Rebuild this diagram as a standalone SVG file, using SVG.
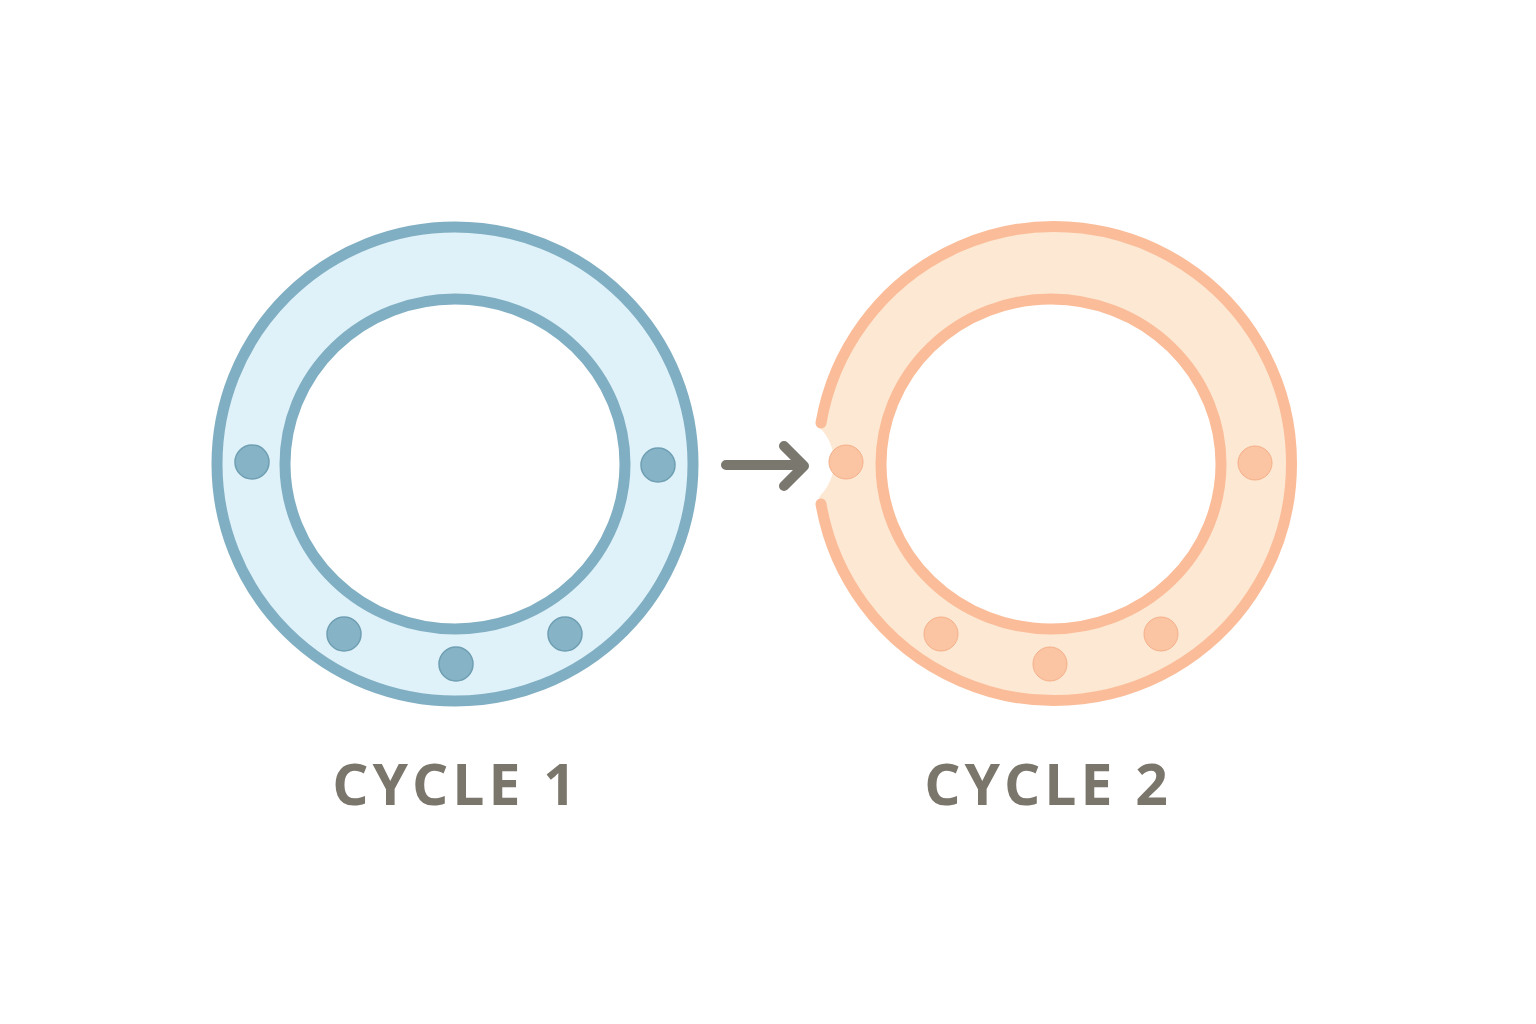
<svg xmlns="http://www.w3.org/2000/svg" width="1536" height="1024" viewBox="0 0 1536 1024">
<style>
.lbl{font-family:"Open Sans","Liberation Sans",sans-serif;font-weight:bold;font-size:57px;fill:#7b766c;letter-spacing:4px;text-anchor:middle}
.b-fill{fill:#e0f2f9}
.b-line{fill:none;stroke:#80afc3;stroke-width:11}
.b-dot{fill:#86b3c6;stroke:#6f9fb3;stroke-width:1.5}
.o-fill{fill:#fde8d3}
.o-line{fill:none;stroke:#fbbd99;stroke-width:11;stroke-linecap:round}
.o-dot{fill:#fbc4a2;stroke:#f5b08a;stroke-width:1}
.arrow{fill:none;stroke:#7a776f;stroke-width:10;stroke-linecap:round;stroke-linejoin:round}
</style>
<defs>
<mask id="notch">
<rect x="0" y="0" width="1536" height="1024" fill="#fff"/>
<circle cx="786" cy="462" r="48" fill="#000"/>
</mask>
</defs>
<rect width="1536" height="1024" fill="#fff"/>
<g id="cycle1">
<path class="b-fill" fill-rule="evenodd" d="M455,227 a238,237 0 1,0 0.01,0 z M455,299 a170,165 0 1,1 -0.01,0 z"/>
<ellipse class="b-line" cx="455" cy="464" rx="238" ry="237"/>
<ellipse class="b-line" cx="455" cy="464" rx="170" ry="165"/>
<circle class="b-dot" cx="252" cy="462" r="17"/>
<circle class="b-dot" cx="658" cy="465" r="17"/>
<circle class="b-dot" cx="344" cy="634" r="17"/>
<circle class="b-dot" cx="456" cy="664" r="17"/>
<circle class="b-dot" cx="565" cy="634" r="17"/>
<text class="lbl" x="456" y="805">CYCLE 1</text>
</g>
<g id="cycle2">
<path class="o-fill" mask="url(#notch)" fill-rule="evenodd" d="M1054,227 a237,237 0 1,0 0.01,0 z M1051,299 a170,165 0 1,1 -0.01,0 z"/>
<path class="o-line" d="M821,423 A237,237 0 1,1 821,504"/>
<ellipse class="o-line" cx="1051" cy="464" rx="170" ry="165"/>
<circle class="o-dot" cx="846" cy="462" r="17"/>
<circle class="o-dot" cx="1255" cy="463" r="17"/>
<circle class="o-dot" cx="941" cy="634" r="17"/>
<circle class="o-dot" cx="1050" cy="664" r="17"/>
<circle class="o-dot" cx="1161" cy="634" r="17"/>
<text class="lbl" x="1048" y="805">CYCLE 2</text>
</g>
<g id="connectors">
<path class="arrow" d="M726,465 H802 M784,446 L804,466 L784,486"/>
</g>
</svg>
